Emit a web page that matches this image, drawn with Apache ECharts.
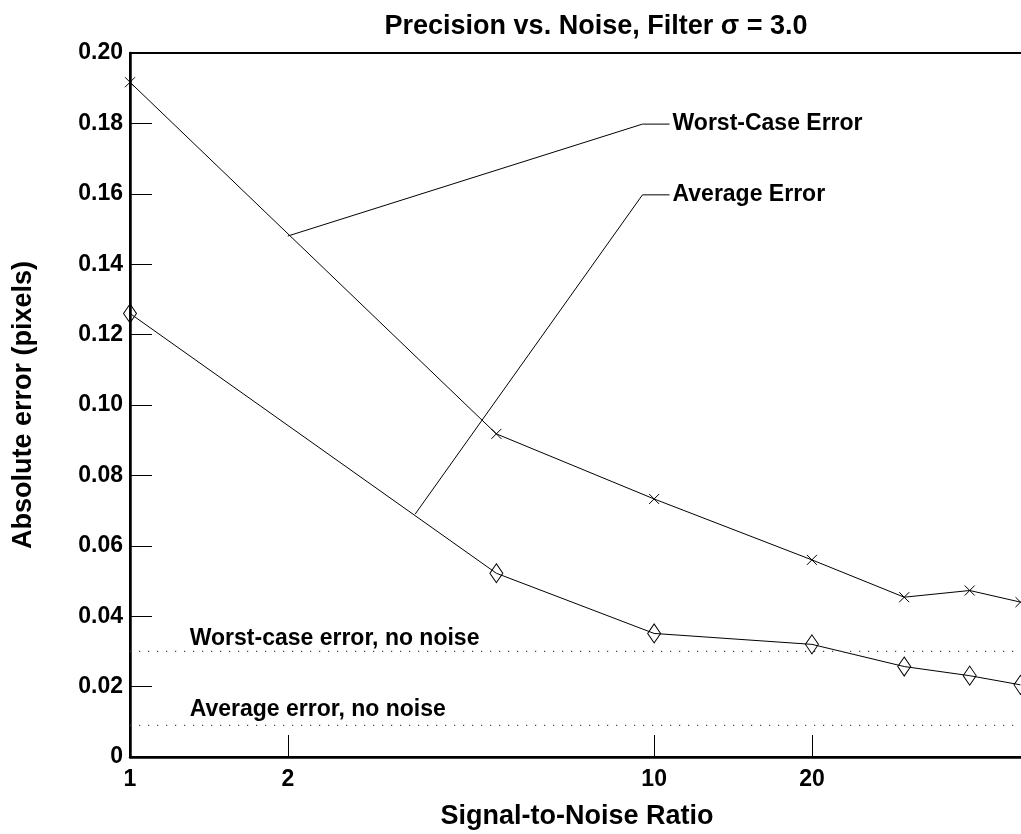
<!DOCTYPE html>
<html>
<head>
<meta charset="utf-8">
<script src="https://cdn.jsdelivr.net/npm/echarts@6/dist/echarts.min.js"></script>
<style>
  html, body { margin: 0; padding: 0; background: #fff; }
  #chart { width: 1021px; height: 834px; }
</style>
</head>
<body>
<div id="chart"></div>
<script>
// signal-to-noise ratios and measured errors
const snr = [1, 5, 10, 20, 30, 40, 50];
const worstCase = [0.1917, 0.0918, 0.0733, 0.0560, 0.0454, 0.0473, 0.0440];
const averageErr = [0.1260, 0.0522, 0.0351, 0.0320, 0.0257, 0.0231, 0.0205];

// no-noise reference levels
const worstNoNoise = 0.030;
const avgNoNoise = 0.009;

// tick labels
const xTicks = [1, 2, 10, 20];
const yTicks = [0, 0.02, 0.04, 0.06, 0.08, 0.10, 0.12, 0.14, 0.16, 0.18, 0.20];

// leader lines for the series annotations (data coordinates)
const worstLeader = [[2, 0.148], [9.5, 0.1798], [10.7, 0.1798]];
const avgLeader = [[3.5, 0.069], [9.5, 0.1597], [10.7, 0.1597]];

const FONT = '"Liberation Sans", Arial, Helvetica, sans-serif';
const crossPath = 'path://M0,0L10,10M10,0L0,10';

const pairs = (xs, ys) => xs.map((x, i) => [x, ys[i]]);

let myChart = echarts.init(document.getElementById('chart'));

let option = {
    backgroundColor: '#fff',
    animation: false,
    title: {
        text: 'Precision vs. Noise, Filter σ = 3.0',
        left: 591,
        top: 8,
        textAlign: 'center',
        textStyle: { fontFamily: FONT, fontWeight: 'bold', fontSize: 27, color: '#000' }
    },
    // the plot runs on past the right edge of the picture
    grid: {
        left: 130, top: 53, height: 704, width: 932,
        outerBoundsMode: 'none',
        containLabel: false,
        show: true, borderColor: '#000', borderWidth: 2, backgroundColor: 'transparent'
    },
    xAxis: {
        type: 'log',
        logBase: 10,
        min: 1,
        max: 60,
        name: 'Signal-to-Noise Ratio',
        nameLocation: 'middle',
        nameGap: 46,
        nameTextStyle: {
            fontFamily: FONT, fontWeight: 'bold', fontSize: 27, color: '#000',
            padding: [0, 38, 0, 0]
        },
        axisLine: { lineStyle: { color: '#000', width: 2.5 } },
        axisTick: { inside: true, length: 22, customValues: xTicks, lineStyle: { color: '#000', width: 1 } },
        axisLabel: {
            customValues: xTicks, margin: 11,
            fontFamily: FONT, fontWeight: 'bold', fontSize: 23, color: '#000'
        },
        splitLine: { show: false }
    },
    yAxis: {
        type: 'value',
        min: 0,
        max: 0.2,
        interval: 0.02,
        name: 'Absolute error (pixels)',
        nameLocation: 'middle',
        nameGap: 93,
        nameTextStyle: { fontFamily: FONT, fontWeight: 'bold', fontSize: 27, color: '#000' },
        axisLine: { lineStyle: { color: '#000', width: 2.5 } },
        axisTick: { inside: true, length: 22, lineStyle: { color: '#000', width: 1 } },
        axisLabel: {
            margin: 7,
            fontFamily: FONT, fontWeight: 'bold', fontSize: 23, color: '#000',
            formatter: v => (v === 0 ? '0' : v.toFixed(2))
        },
        splitLine: { show: false }
    },
    series: [
        {
            name: 'Worst-Case Error',
            type: 'line',
            data: pairs(snr, worstCase),
            symbol: crossPath,
            symbolSize: 10,
            lineStyle: { color: '#000', width: 1 },
            itemStyle: { color: 'none', borderColor: '#000', borderWidth: 1 }
        },
        {
            name: 'Average Error',
            type: 'line',
            data: pairs(snr, averageErr),
            symbol: 'diamond',
            symbolSize: [13, 19],
            lineStyle: { color: '#000', width: 1 },
            itemStyle: { color: 'none', borderColor: '#000', borderWidth: 1 }
        },
        {
            type: 'line',
            data: worstLeader,
            symbol: 'none',
            lineStyle: { color: '#000', width: 1 },
            endLabel: {
                show: true, formatter: 'Worst-Case Error', distance: 3,
                fontFamily: FONT, fontWeight: 'bold', fontSize: 23, color: '#000'
            }
        },
        {
            type: 'line',
            data: avgLeader,
            symbol: 'none',
            lineStyle: { color: '#000', width: 1 },
            endLabel: {
                show: true, formatter: 'Average Error', distance: 3,
                fontFamily: FONT, fontWeight: 'bold', fontSize: 23, color: '#000'
            }
        },
        {
            type: 'line',
            data: [[1, worstNoNoise], [60, worstNoNoise]],
            symbol: 'none',
            lineStyle: { color: '#444', width: 1.2, type: [1.2, 7.8] }
        },
        {
            type: 'line',
            data: [[1, avgNoNoise], [60, avgNoNoise]],
            symbol: 'none',
            lineStyle: { color: '#444', width: 1.2, type: [1.2, 7.8] }
        },
        {
            type: 'scatter',
            symbolSize: 0,
            itemStyle: { opacity: 1 },
            data: [
                { name: 'Worst-case error, no noise', value: [1.3, 0.0335] },
                { name: 'Average error, no noise', value: [1.3, 0.0135] }
            ],
            label: {
                show: true, position: 'right', distance: 0,
                formatter: p => p.name,
                fontFamily: FONT, fontWeight: 'bold', fontSize: 23, color: '#000'
            }
        }
    ]
};

myChart.setOption(option);
</script>
</body>
</html>
